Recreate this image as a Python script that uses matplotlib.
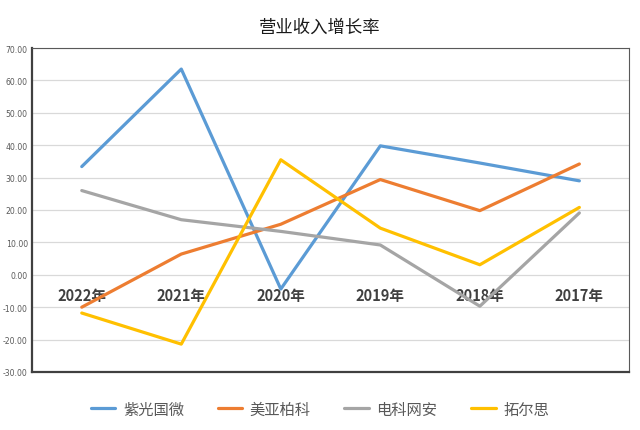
import numpy as np
from matplotlib import pyplot as plt

plt.rcParams['font.family'] = ['Noto Sans CJK SC', 'DejaVu Sans']

years = ['2022年', '2021年', '2020年', '2019年', '2018年', '2017年']
names = ['紫光国微', '美亚柏科', '电科网安', '拓尔思']
ziguang = [33.4, 63.5, -4.4, 39.8, 34.5, 29.0]
meiya = [-10.0, 6.4, 15.6, 29.4, 19.8, 34.2]
dianke = [26.0, 17.0, 13.4, 9.2, -9.7, 19.1]
tuoersi = [-11.8, -21.4, 35.5, 14.4, 3.1, 20.8]
colors = ['#5B9BD5', '#ED7D31', '#A5A5A5', '#FFC000']

fig = plt.figure(figsize=(6.4, 4.31), dpi=100)
ax = fig.add_axes([0.05, 0.1346, 0.933, 0.7517])

x = np.arange(len(years))
for vals, name, c in zip([ziguang, meiya, dianke, tuoersi], names, colors):
    ax.plot(x, vals, color=c, linewidth=2.3, label=name, solid_capstyle='round')

ax.set_xlim(-0.5, len(years) - 0.5)
ax.set_ylim(-30, 70)
yt = np.arange(-30, 71, 10)
ax.set_yticks(yt)
ax.set_yticklabels(['%.2f' % v for v in yt], fontsize=5.6, color='#595959', family='DejaVu Sans')
ax.grid(axis='y', color='#D9D9D9', linewidth=0.9)
ax.set_axisbelow(True)
ax.tick_params(axis='y', length=0, pad=3)

# category labels sit inside the plot, just under the zero line
ax.set_xticks(x)
ax.set_xticklabels(years, fontsize=10.5, fontweight='bold', color='#404040')
ax.tick_params(axis='x', length=0, pad=-61)

for s in ['left', 'bottom']:
    ax.spines[s].set_color('#404040')
    ax.spines[s].set_linewidth(1.6)
for s in ['top', 'right']:
    ax.spines[s].set_color('#595959')
    ax.spines[s].set_linewidth(0.8)

fig.text(0.5, 0.935, '营业收入增长率', ha='center', va='center', fontsize=12.5, color='#1a1a1a')

fig.legend(loc='center', bbox_to_anchor=(0.5, 0.048), ncol=4, frameon=False,
           fontsize=11, handlelength=1.6, columnspacing=2.2, handletextpad=0.5,
           labelcolor='#595959')

fig.savefig('out.png', dpi=100)
